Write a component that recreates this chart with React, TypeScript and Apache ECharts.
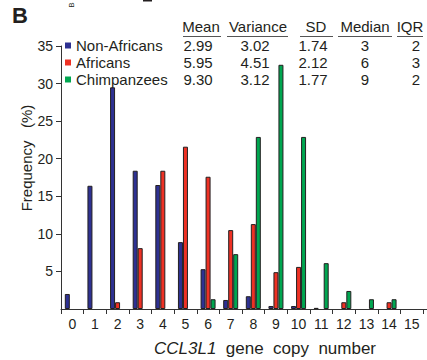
import React, { useEffect, useRef } from "react";
import * as echarts from "echarts";

const categories = ["0", "1", "2", "3", "4", "5", "6", "7", "8", "9", "10", "11", "12", "13", "14", "15"];
const nonAfricans = [2.0, 16.4, 29.5, 18.4, 16.5, 8.9, 5.3, 1.2, 1.7, 0.4, 0.4, 0.15, 0, 0, 0, 0];
const africans = [0, 0, 0.9, 8.1, 18.4, 21.6, 17.6, 10.5, 11.3, 4.9, 5.6, 0, 0.9, 0, 0.9, 0];
const chimpanzees = [0, 0, 0, 0, 0, 0, 1.3, 7.3, 22.9, 32.5, 22.9, 6.1, 2.4, 1.3, 1.3, 0];

const seriesNames = ["Non-Africans", "Africans", "Chimpanzees"];
const statHeaders = ["Mean", "Variance", "SD", "Median", "IQR"];
const nonAfricanStats = ["2.99", "3.02", "1.74", "3", "2"];
const africanStats = ["5.95", "4.51", "2.12", "6", "3"];
const chimpanzeeStats = ["9.30", "3.12", "1.77", "9", "2"];
const yTicks = [0, 5, 10, 15, 20, 25, 30, 35];

const FONT = "'Liberation Sans', Arial, Helvetica, sans-serif";
const TXT = "#231f20";
const COLORS = ["#2e3192", "#ee3124", "#00a650"];

export default function App() {
  const ref = useRef<HTMLDivElement>(null);
  useEffect(() => {
    document.body.style.margin = "0";
    const chart = echarts.init(ref.current!, null, { renderer: "svg" });
    const dataSets = [nonAfricans, africans, chimpanzees];
    const statRows = [nonAfricanStats, africanStats, chimpanzeeStats];

    const headerCenters = [201, 258, 316, 365, 410];
    const underlines = [[183, 221], [227, 288], [300, 333], [338, 392], [397, 423]];
    const valueCenters = [198, 255, 313, 365, 416];
    const rowY = [45.5, 62.3, 79];

    const graphics: any[] = [
      {
        type: "text", left: 12, top: 4,
        style: { text: "B", font: `bold 22px ${FONT}`, fill: TXT },
      },
      {
        type: "text", x: 71, y: 5, rotation: Math.PI / 2,
        style: { text: "B", font: `8px ${FONT}`, fill: TXT, align: "center", verticalAlign: "middle" },
      },
      { type: "rect", shape: { x: 143, y: 0, width: 9, height: 1.5 }, style: { fill: TXT } },
      { type: "line", shape: { x1: 423, y1: 309.5, x2: 427, y2: 309.5 }, style: { stroke: "#333", lineWidth: 1 } },
      {
        type: "text", x: 26, y: 158, rotation: Math.PI / 2,
        style: { text: "Frequency   (%)", font: `15px ${FONT}`, fill: TXT, align: "center", verticalAlign: "middle" },
      },
      {
        type: "text", x: 265, y: 348,
        style: {
          text: "{i|CCL3L1}  gene  copy  number",
          font: `17px ${FONT}`, fill: TXT, align: "center", verticalAlign: "middle",
          rich: { i: { fontStyle: "italic", fontSize: 17, fontFamily: FONT, fill: TXT } },
        },
      },
    ];
    statHeaders.forEach((h, i) => {
      graphics.push({
        type: "text", x: headerCenters[i], y: 26,
        style: { text: h, font: `15px ${FONT}`, fill: TXT, align: "center", verticalAlign: "middle" },
      });
      graphics.push({
        type: "line",
        shape: { x1: underlines[i][0], y1: 36.5, x2: underlines[i][1], y2: 36.5 },
        style: { stroke: "#555", lineWidth: 1 },
      });
    });
    statRows.forEach((row, r) => {
      row.forEach((v, c) => {
        graphics.push({
          type: "text", x: valueCenters[c], y: rowY[r],
          style: { text: v, font: `15px ${FONT}`, fill: TXT, align: "center", verticalAlign: "middle" },
        });
      });
    });

    const shownTicks = yTicks.filter((t) => t !== 0);

    chart.setOption({
      animation: false,
      color: COLORS,
      grid: { left: 61, right: 4, top: 46, bottom: 51 },
      legend: {
        data: seriesNames,
        orient: "vertical",
        left: 65,
        top: 37,
        padding: 0,
        itemGap: 0,
        itemWidth: 6,
        itemHeight: 6,
        icon: "rect",
        itemStyle: { borderWidth: 0 },
        textStyle: { fontSize: 15, fontFamily: FONT, color: TXT, lineHeight: 17 },
      },
      xAxis: {
        type: "category",
        data: categories,
        boundaryGap: true,
        axisLine: { lineStyle: { color: "#333", width: 1 } },
        axisTick: { show: true, interval: 0, alignWithLabel: false, length: 5, lineStyle: { color: "#333" } },
        axisLabel: { interval: 0, fontSize: 14, fontFamily: FONT, color: TXT, margin: 8 },
      },
      yAxis: {
        type: "value",
        min: yTicks[0],
        max: yTicks[yTicks.length - 1],
        interval: 5,
        splitLine: { show: false },
        axisLine: { show: true, lineStyle: { color: "#333", width: 1 } },
        axisTick: { show: true, length: 5, lineStyle: { color: "#333" }, customValues: shownTicks },
        axisLabel: {
          fontSize: 14, fontFamily: FONT, color: TXT, margin: 8,
          customValues: shownTicks,
        },
      },
      graphic: graphics,
      series: seriesNames.map((name, i) => ({
        name,
        type: "bar",
        barWidth: 5,
        barGap: "0%",
        data: dataSets[i].map((v) => (v === 0 ? null : v)),
        itemStyle: { color: COLORS[i], borderColor: "#231f20", borderWidth: 1 },
      })),
    });
    return () => chart.dispose();
  }, []);
  return <div ref={ref} style={{ width: 427, height: 360, position: "absolute", left: 0, top: 0 }} />;
}
